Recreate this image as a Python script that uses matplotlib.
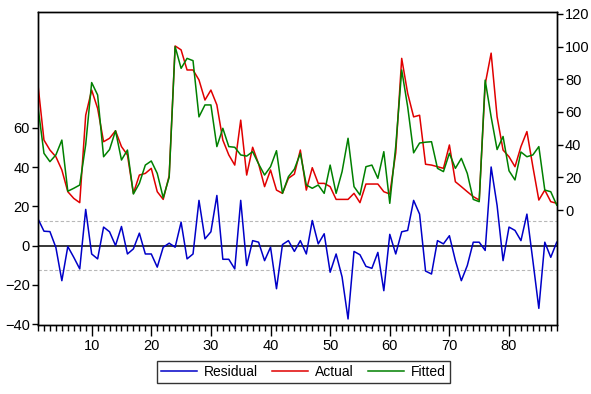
import matplotlib
matplotlib.use("Agg")
import matplotlib.pyplot as plt
from matplotlib.lines import Line2D
import numpy as np

plt.rcParams['font.family'] = ['Liberation Sans', 'DejaVu Sans']

obs = list(range(1, 89))

actual = [76.5, 42.8, 36.7, 32.6, 24.5, 11.2, 7.1, 4.5, 58, 73.4,
          62.2, 41.8, 43.9, 48.5, 38.8, 33.7, 10.2, 21.4, 22.4, 25.5,
          11.2, 6.5, 21, 100.4, 98, 85.7, 85.7, 79.6, 67.3, 73.4,
          64.3, 42.8, 33.7, 27.5, 55, 21.4, 38.4, 28.2, 14.3, 24.5,
          12.2, 10.2, 19.4, 22, 36.7, 12.2, 25.9, 16.3, 16.3, 14.3,
          6.5, 6.5, 6.5, 10.2, 4.5, 15.9, 15.9, 15.9, 11.2, 9.8,
          35, 92.8, 71.4, 57, 58, 28, 27.5, 26.5, 25.5, 39.8,
          17.3, 14.3, 11.2, 8.2, 6.1, 77, 96, 57, 36.7, 32.6,
          26.5, 38.8, 48, 26.5, 6.1, 12.2, 5.1, 4.1]

fitted = [63, 34.7, 29.6, 33.7, 42.8, 11.5, 13.3, 15.3, 40, 78,
          70.4, 32.6, 37, 48.5, 30.6, 36.7, 9.8, 16.3, 27.5, 30,
          22.4, 7.5, 20, 100, 86.7, 92.8, 91.4, 57, 64.3, 64.3,
          38.8, 50, 38.8, 38.4, 33.7, 33, 35.7, 28.2, 21.4, 26.5,
          36.3, 10.2, 20.4, 25, 34.7, 15.3, 13.3, 15.3, 10.2, 27.5,
          10.2, 23.5, 43.9, 14.3, 9.2, 26.5, 27.5, 19.4, 35.7, 4.1,
          39, 85.7, 63.2, 35, 41, 41.5, 41.8, 25.5, 23.5, 34.7,
          25.5, 31.6, 22.4, 6.5, 5.1, 79.5, 57, 37, 45, 24,
          18.4, 35.5, 32.6, 33.7, 38.8, 12.2, 11.2, 3]

residual = [13.6, 7.3, 7.1, -1, -17.9, -0.5, -6, -11.9, 18.4, -4.3,
            -6.8, 9.4, 7, 0, 9.7, -4.3, -1.7, 6.3, -4.3, -4.3,
            -11, -0.85, 1.2, -0.85, 11.9, -6.8, -4.3, 23, 3.4, 7,
            25.5, -7, -7, -11.9, 23, -10.2, 2.5, 1.7, -7.7, -0.85,
            -22, 0.5, 2.5, -3, 2.5, -4.3, 12.75, 0.85, 6, -13.6,
            -4.3, -16, -37.4, -3, -4.7, -10.6, -11.6, -3.5, -23, 5.7,
            -4.3, 7, 7.7, 23, 16, -13, -14.5, 2.5, 0.85, 5,
            -7.6, -17.9, -10.2, 1.7, 1.7, -2.5, 40, 20.4, -7.7, 9.4,
            7.7, 2.5, 16, -7.7, -32, 1.7, -6, 1.7]

se_band = 12.5

left_ticks = [-40, -20, 0, 20, 40, 60]
right_ticks = [0, 20, 40, 60, 80, 100, 120]
x_major = [10, 20, 30, 40, 50, 60, 70, 80]

c_res = '#0000C8'
c_act = '#E00000'
c_fit = '#008000'

fig = plt.figure(figsize=(5.91, 3.94), dpi=100)
ax = fig.add_axes([0.0643, 0.175, 0.8777, 0.7938])
ax2 = ax.twinx()

ax.axhline(0, color='black', lw=1.1, zorder=1)
ax.axhline(se_band, color='#b8b8b8', lw=0.8, ls=(0, (3, 2)), zorder=1)
ax.axhline(-se_band, color='#b8b8b8', lw=0.8, ls=(0, (3, 2)), zorder=1)
ax.plot(obs, residual, color=c_res, lw=1.1, zorder=2)

ax2.plot(obs, actual, color=c_act, lw=1.1)
ax2.plot(obs, fitted, color=c_fit, lw=1.1)

ax.set_xlim(1, 88)
ax.set_ylim(-40.5, 118.8)
ax2.set_ylim(-70.4, 121)

ax.set_yticks(left_ticks)
ax2.set_yticks(right_ticks)
ax.set_xticks(x_major)
ax.set_xticks(obs, minor=True)

for a in (ax, ax2):
    for s in a.spines.values():
        s.set_linewidth(1.0)
        s.set_color('black')

ax.tick_params(axis='y', direction='out', length=4, width=1, labelsize=10.5, pad=2)
ax2.tick_params(axis='y', direction='out', length=4, width=1, labelsize=10.5, pad=2)
ax.tick_params(axis='x', which='major', direction='out', length=8, width=1, labelsize=10.5, pad=2)
ax.tick_params(axis='x', which='minor', direction='out', length=4, width=1)

handles = [Line2D([], [], color=c_res, lw=1.1),
           Line2D([], [], color=c_act, lw=1.1),
           Line2D([], [], color=c_fit, lw=1.1)]
leg = fig.legend(handles, ['Residual', 'Actual', 'Fitted'], loc='center',
                 bbox_to_anchor=(0.513, 0.0555), ncol=3, frameon=True, fancybox=False,
                 edgecolor='black', fontsize=10, handlelength=2.6, columnspacing=1.0,
                 handletextpad=0.5, borderpad=0.3)
leg.get_frame().set_linewidth(1.0)

fig.savefig('out.png', dpi=100)
